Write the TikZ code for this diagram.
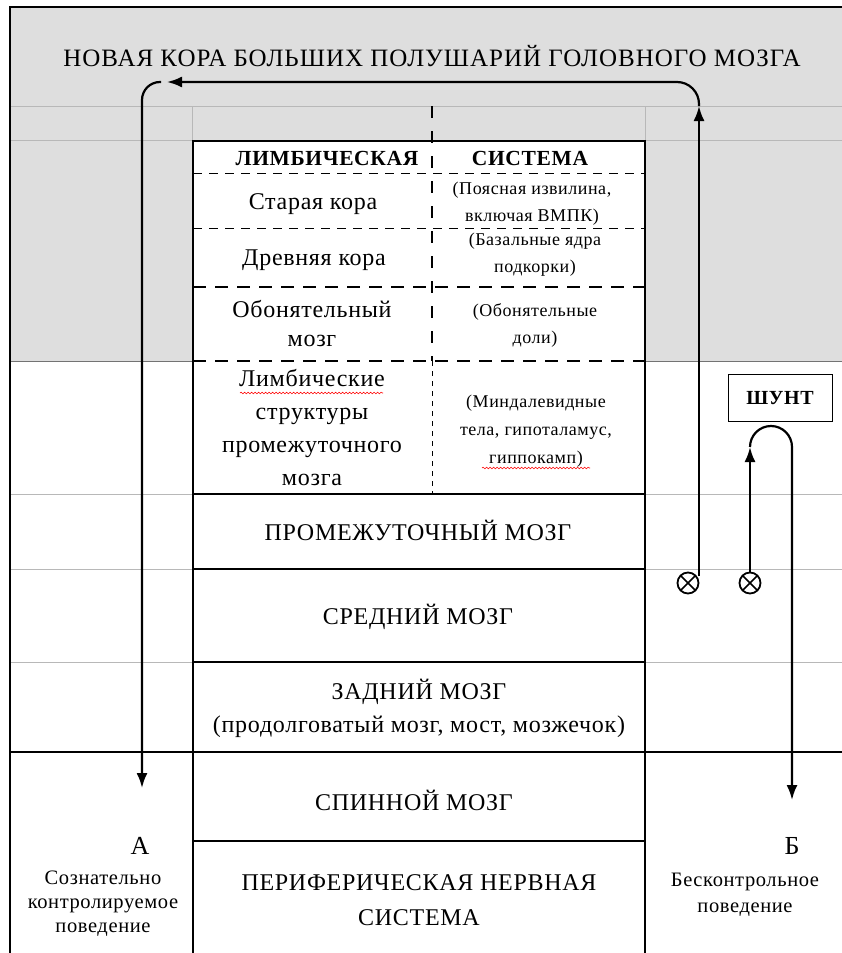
\documentclass[tikz,border=0pt]{standalone}
\usepackage{fontspec}
\setmainfont{Liberation Serif}[LetterSpace=3]
\usetikzlibrary{arrows.meta}
\usetikzlibrary{decorations.pathmorphing}

\begin{document}
\begin{tikzpicture}[x=1pt,y=-1pt,
    thick line/.style={line width=2.2pt},
    grid line/.style={draw=black!28,line width=1pt},
    arr/.style={line width=2.2pt,-{Latex[length=15pt,width=11pt]}},
    big/.style={align=center,inner sep=0pt,font=\fontsize{24}{33}\selectfont},
    small/.style={align=center,inner sep=0pt,font=\fontsize{18}{27}\selectfont},
    side/.style={align=center,inner sep=0pt,font=\fontsize{20.5}{24}\selectfont},
    head/.style={inner sep=0pt,font=\fontsize{21.5}{24}\selectfont\bfseries},
    circx/.style={circle,draw,line width=1.8pt,minimum size=21pt,inner sep=0pt,
        path picture={\draw[line width=1.6pt]
            (path picture bounding box.north west) -- (path picture bounding box.south east)
            (path picture bounding box.north east) -- (path picture bounding box.south west);}},
    wavy/.style={red,line width=0.6pt,decorate,decoration={snake,amplitude=0.8pt,segment length=3.5pt}}]
\useasboundingbox (0,0) rectangle (842,953);
% shaded cortex area
\fill[black!13] (10,7) rectangle (842,140);
\fill[black!13] (10,140) rectangle (192,361);
\fill[black!13] (645,140) rectangle (842,361);
% table grid
\foreach \y in {106,140,494,569,662}
    \draw[grid line] (10,\y) -- (842,\y);
\draw[black!55,line width=1pt] (10,361) -- (192,361) (645,361) -- (842,361);
\draw[grid line] (192,106) -- (192,140) (645,106) -- (645,140);
\draw[line width=1.3pt] (10,752) -- (842,752);
\draw[line width=1.3pt] (842,7) -- (10,7) -- (10,953);

% central column
\draw[thick line] (193,953) -- (193,141) -- (645,141) -- (645,953);
\foreach \y in {494,569,662,752}
    \draw[thick line] (193,\y) -- (645,\y);
\draw[line width=1.5pt] (193,841) -- (645,841);
\draw[line width=1pt,dash pattern=on 9pt off 7pt] (193,173) -- (645,173);
\draw[line width=1pt,dash pattern=on 9pt off 7pt] (193,228) -- (645,228);
\draw[line width=2.2pt,dash pattern=on 13pt off 9pt] (193,287) -- (645,287);
\draw[line width=2.2pt,dash pattern=on 13pt off 9pt] (193,361) -- (645,361);
\draw[line width=2.2pt,dash pattern=on 12pt off 13pt] (432,106) -- (432,361);
\draw[line width=1pt,dash pattern=on 5pt off 5pt] (432,361) -- (432,494);

% texts
\node[big,font=\fontsize{25}{30}\selectfont\addfontfeature{LetterSpace=4}] (N) at (432,56)
    {НОВАЯ КОРА БОЛЬШИХ ПОЛУШАРИЙ ГОЛОВНОГО МОЗГА};
\node[head] (L1) at (327,158) {ЛИМБИЧЕСКАЯ};
\node[head] (L2) at (530,158) {СИСТЕМА};
\node[big] (C1) at (313,204) {Старая кора};
\node[small] (C2) at (532,204) {(Поясная извилина,\\включая ВМПК)};
\node[big] (D1) at (314,260) {Древняя кора};
\node[small] (D2) at (535,255) {(Базальные ядра\\подкорки)};
\node[big,font=\fontsize{24}{29}\selectfont] (O1) at (312,324) {Обонятельный\\мозг};
\node[small] (O2) at (535,325) {(Обонятельные\\доли)};
\node[big] (M1) at (312,428) {Лимбические\\структуры\\промежуточного\\мозга};
\node[small,font=\fontsize{18}{28}\selectfont] (M2) at (536,431) {(Миндалевидные\\тела, гипоталамус,\\гиппокамп)};
\draw[wavy] (240,393) -- (383,393);
\draw[wavy] (482,468) -- (590,468);
\node[big] (P) at (418,530) {ПРОМЕЖУТОЧНЫЙ МОЗГ};
\node[big] (S) at (418,617) {СРЕДНИЙ МОЗГ};
\node[big] (Z) at (419,708) {ЗАДНИЙ МОЗГ\\(продолговатый мозг, мост, мозжечок)};
\node[big] (R) at (414,800) {СПИННОЙ МОЗГ};
\node[big,font=\fontsize{24}{35}\selectfont] (E) at (419,900) {ПЕРИФЕРИЧЕСКАЯ НЕРВНАЯ\\СИСТЕМА};
\node[big,font=\fontsize{26}{30}\selectfont] (A) at (140,846) {А};
\node[side] (A2) at (103,904) {Сознательно\\контролируемое\\поведение};
\node[big,font=\fontsize{26}{30}\selectfont] (B) at (792,846) {Б};
\node[side,font=\fontsize{20.5}{26}\selectfont] (B2) at (745,895) {Бесконтрольное\\поведение};
\node[draw,line width=1pt,minimum width=104pt,minimum height=47pt,inner sep=0pt,
    font=\fontsize{20}{22}\selectfont\bfseries] (U) at (780,398) {ШУНТ};

% pathways
\node[circx] (X1) at (688,583) {};
\node[circx] (X2) at (750,583) {};
\coordinate (a1) at (699,576);
\coordinate (a2) at (699,106);
\coordinate (a3) at (167,82);
\coordinate (a4) at (161,82);
\coordinate (a5) at (142,788);
\coordinate (s1) at (750,447);
\coordinate (b1) at (792,800);
\draw[arr] (a1) -- (a2);
\draw[arr,rounded corners=22pt] (a2) |- (a3);
\draw[arr,rounded corners=18pt] (a4) -| (a5);
\draw[arr] (X2) -- (s1);
\draw[arr] (s1) arc[start angle=180,end angle=360,radius=21] -- (b1);
\end{tikzpicture}
\end{document}
